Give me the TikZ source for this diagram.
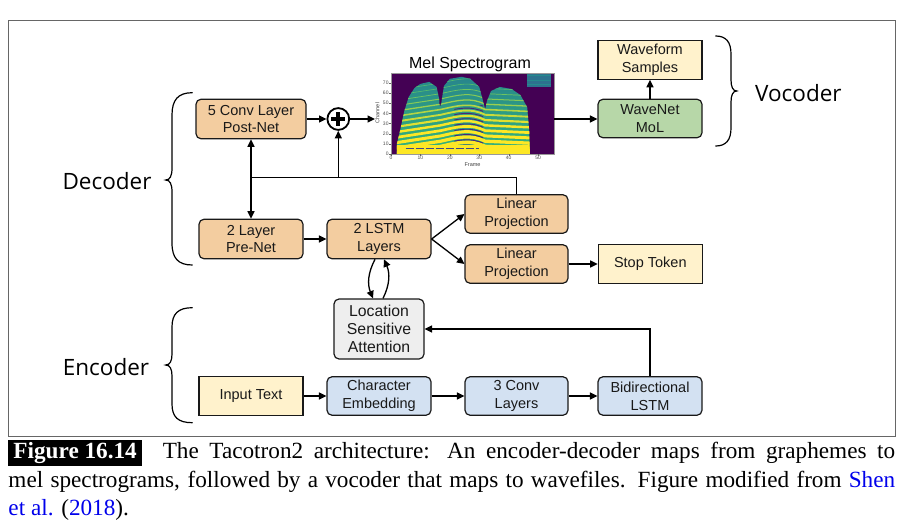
\documentclass[tikz,border=0pt]{standalone}
\usepackage{fontspec}
\setmainfont{Liberation Sans}
\newfontfamily\capfont{Liberation Serif}
\newfontfamily\bigfont{Open Sans}
\usetikzlibrary{arrows.meta,calc}
\definecolor{orng}{HTML}{F3CDA0}
\definecolor{ylw}{HTML}{FFF2CC}
\definecolor{blu}{HTML}{D3E1F2}
\definecolor{grn}{HTML}{B7D7A8}
\definecolor{gry}{HTML}{EEEEEE}
\definecolor{linkblue}{RGB}{0,0,235}
\definecolor{v0}{HTML}{440154}
\definecolor{v1}{HTML}{482878}
\definecolor{v2}{HTML}{3E4A89}
\definecolor{v3}{HTML}{31688E}
\definecolor{v4}{HTML}{26828E}
\definecolor{v5}{HTML}{1F9E89}
\definecolor{v6}{HTML}{35B779}
\definecolor{v7}{HTML}{6DCD59}
\definecolor{v8}{HTML}{B4DE2C}
\definecolor{v9}{HTML}{FDE725}
\newcommand\boxfont{\fontsize{14.5}{17.7}\selectfont}
\newcommand\lsafont{\fontsize{15.8}{18.3}\selectfont}
\newcommand\partfont{\bigfont\fontsize{22.5}{26}\selectfont}
\newcommand\tickfont{\fontsize{5}{5}\selectfont}
\begin{document}
\begin{tikzpicture}[x=1pt,y=-1pt,
  box/.style={draw=black!90, line width=1.2pt, rounded corners=5pt, align=center, inner sep=0pt,
    minimum width=104pt, minimum height=38.5pt, font=\boxfont, text=black!90},
  sbox/.style={box, rounded corners=0pt},
  arr/.style={line width=1.3pt, -{Triangle[length=7.5pt,width=7pt]}},
  conn/.style={line width=1.3pt},
  brace/.style={line width=1.2pt, line cap=round},
  part/.style={font=\partfont, inner sep=0pt, text=black},
  ticklab/.style={font=\tickfont, text=black!70, inner sep=0.8pt}
]
\useasboundingbox (0,0) rectangle (910,532);
\draw[black!60, line width=1pt] (8.3,20.7) rectangle (895,436.7);

% ---------- spectrogram (frame / channel coordinates) ----------
\begin{scope}[shift={(391pt,-154pt)}, x=2.942pt, y=1.016pt]
  \begin{scope}
    \clip (0,0) rectangle (55.5,80);
    \fill[v0] (0,0) rectangle (55.5,80);
    % top right patch
    \fill[v3!60!v4] (46.3,65.5) rectangle (54.3,80);
    \foreach \c in {68,72.5,77} \draw[v4!70!v5, line width=0.9pt] (46.3,\c) -- (54.3,\c);
    % envelope
    \def\greenreg{(2,0) -- (2,10) -- (3,22) -- (4.5,42) -- (6,56) -- (8,65) -- (10,69) -- (13,71) -- (15.5,66) -- (16.3,55) -- (16.9,46) -- (17.4,56) -- (18,67) -- (20,74) -- (24,76) -- (27,74) -- (30,66) -- (31.3,52) -- (32,44) -- (32.6,52) -- (34,62) -- (37,66) -- (41,64) -- (44,58) -- (46.3,46) -- (47,22) -- (47.2,0) -- cycle}
    \begin{scope}
      \clip \greenreg;
      \shade[bottom color=v6, top color=v4] (0,0) rectangle (55.5,80);
      \foreach \c [evaluate=\c as \w using {max(0.6,3.6-0.055*\c)},
                   evaluate=\c as \p using {min(100,max(15,100-(\c-20)*2.2))}] in {-10,-4.8,...,80} {
        \draw[v9!\p!v6, line width=\w pt] (1,\c) -- (16.9,\c+7)
          .. controls (23,\c+11) and (27,\c+14) .. (32,\c+7) -- (47.5,\c+5);
      }
      \begin{scope}
        \clip (21.5,8) rectangle (31.3,48);
        \foreach \c in {-10,-4.8,...,60}
          \draw[v1, line width=0.9pt] (16.9,\c+9.4) .. controls (23,\c+13.4) and (27,\c+16.4) .. (32,\c+9.4);
      \end{scope}
      \fill[v9] (0,0) rectangle (55.5,8.5);
      \draw[v2, line width=1pt, dash pattern=on 8pt off 2pt] (5,5) -- (30,5);
      \fill[v0] (16.5,47) .. controls (16.9,60) .. (17.3,80) -- (16.2,80) -- cycle;
      \fill[v0] (31.4,50) .. controls (32,62) .. (32.6,80) -- (31,80) -- cycle;
    \end{scope}
  \end{scope}
  % axes
  \draw[black!40, line width=0.4pt] (0,0) rectangle (55.5,80);
  \foreach \f in {0,10,20,30,40,50} {
    \draw[black!60, line width=0.3pt] (\f,0) -- ++(0,-1.6);
    \node[ticklab, anchor=north] (xt\f) at (\f,-1.4) {\f};
  }
  \foreach \c in {0,10,20,30,40,50,60,70} {
    \draw[black!60, line width=0.3pt] (0,\c) -- ++(-0.55,0);
    \node[ticklab, anchor=east] (yt\c) at (-0.5,\c) {\c};
  }
\end{scope}
\node[font=\fontsize{16}{19}\selectfont, anchor=base, inner sep=0pt] (meltitle) at (470,68.3) {Mel Spectrogram};
\node[font=\fontsize{5.5}{6}\selectfont, text=black!75, inner sep=0pt] (framelab) at (472.5,165) {Frame};
\node[font=\fontsize{5.5}{6}\selectfont, text=black!75, inner sep=0pt, rotate=90] (chanlab) at (377.5,113) {Channel};
\coordinate (melin) at (375,119);
\coordinate (melout) at (554.3,119);

% ---------- boxes ----------
\node[box, fill=orng, minimum width=110pt, minimum height=39.5pt] (postnet) at (251,119) {5 Conv Layer\\Post-Net};
\node[box, fill=orng, minimum height=39.5pt] (prenet) at (251,239) {2 Layer\\Pre-Net};
\node[box, fill=orng, minimum height=39.5pt] (lstm) at (379,239) {2 LSTM\\Layers};
\node[box, fill=orng, minimum width=103pt] (lp1) at (516.5,214) {Linear\\Projection};
\node[box, fill=orng, minimum width=103pt] (lp2) at (516.5,264) {Linear\\Projection};
\node[sbox, fill=ylw] (stop) at (650.3,264) {Stop Token};
\node[box, fill=gry, minimum width=90pt, minimum height=60pt, font=\lsafont] (lsa) at (379,329) {Location\\Sensitive\\Attention};
\node[sbox, fill=ylw] (input) at (251,396) {Input Text};
\node[box, fill=blu] (charemb) at (379,396) {Character\\Embedding};
\node[box, fill=blu, minimum width=103pt] (conv3) at (516.5,396) {3 Conv\\Layers};
\node[box, fill=blu] (bilstm) at (650,396) {Bidirectional\\LSTM};
\node[box, fill=grn] (wavenet) at (650,118.5) {WaveNet\\MoL};
\node[sbox, fill=ylw] (waveform) at (650,60) {Waveform\\Samples};
\node[circle, draw, line width=1.8pt, minimum size=21.8pt, inner sep=0pt, fill=white] (plus) at (338.3,119) {};
\draw[line width=3.8pt] ([xshift=-7pt]plus.center) -- ([xshift=7pt]plus.center)
  ([yshift=-7pt]plus.center) -- ([yshift=7pt]plus.center);

% ---------- connectors ----------
\coordinate (j1) at (251,177.3);
\coordinate (j2) at (338.3,177.3);
\draw[arr] (postnet.east) -- (plus.west);
\draw[arr] (plus.east) -- (melin);
\draw[arr] (melout) -- (melout -| wavenet.west);
\draw[arr] (wavenet.north) -- (waveform.south);
\draw[arr] (prenet.east) -- (lstm.west);
\draw[arr] (lstm.east) -- (lp1.west);
\draw[arr] (lstm.east) -- (lp2.west);
\draw[arr] (lp2.east) -- (stop.west);
\draw[conn] (lp1.north) |- (j1);
\draw[arr] (j1) -- (postnet.south);
\draw[arr] (j1) -- (prenet.north);
\draw[arr] (j2) -- (plus.south);
\draw[arr] ([xshift=-4pt]lstm.south) to[bend right=25] ([xshift=-6pt]lsa.north);
\draw[arr] ([xshift=4pt]lsa.north) to[bend right=25] ([xshift=5pt]lstm.south);
\draw[arr] (bilstm.north) |- (lsa.east);
\draw[arr] (input.east) -- (charemb.west);
\draw[arr] (charemb.east) -- (conv3.west);
\draw[arr] (conv3.east) -- (bilstm.west);

% ---------- braces ----------
\draw[brace] (192.3,92.7) .. controls (178,92.7) and (172,100) .. (172,115) -- (172,168)
  .. controls (172,176) and (170,180) .. (165.7,180)
  .. controls (170,180) and (172,184) .. (172,192) -- (172,243)
  .. controls (172,258) and (178,265) .. (192.3,265);
\draw[brace] (192.3,307.7) .. controls (178,307.7) and (172,314) .. (172,327) -- (172,354)
  .. controls (172,361) and (170,365) .. (165.7,365)
  .. controls (170,365) and (172,369) .. (172,376) -- (172,404)
  .. controls (172,417) and (178,422.7) .. (192.3,422.7);
\draw[brace] (715.7,36) .. controls (726,36) and (731,42) .. (731,54) -- (731,80)
  .. controls (731,87) and (733,91) .. (736.7,91)
  .. controls (733,91) and (731,95) .. (731,102) -- (731,128)
  .. controls (731,140) and (726,146) .. (715.7,146);
\node[part] (dec) at (107,181) {Decoder};
\node[part] (enc) at (106,366.7) {Encoder};
\node[part, anchor=west] (voc) at (755,92.7) {Vocoder};

% ---------- caption ----------
\node[anchor=base west, inner sep=0pt] (cap) at (8.3,458.7) {\parbox[t]{886.7pt}{\capfont\fontsize{23.2}{28.3}\selectfont
\setlength{\fboxsep}{0pt}\colorbox{black}{\hspace{5pt}\textcolor{white}{\bfseries Figure 16.14}\rule[-7.6pt]{0pt}{26pt}\hspace{5pt}}\hspace{21pt}The Tacotron2 architecture: An encoder-decoder maps from graphemes to\linebreak
mel spectrograms, followed by a vocoder that maps to wavefiles. Figure modified from \textcolor{linkblue}{Shen}\linebreak
\textcolor{linkblue}{et al.} (\textcolor{linkblue}{2018}).}};
\end{tikzpicture}
\end{document}
